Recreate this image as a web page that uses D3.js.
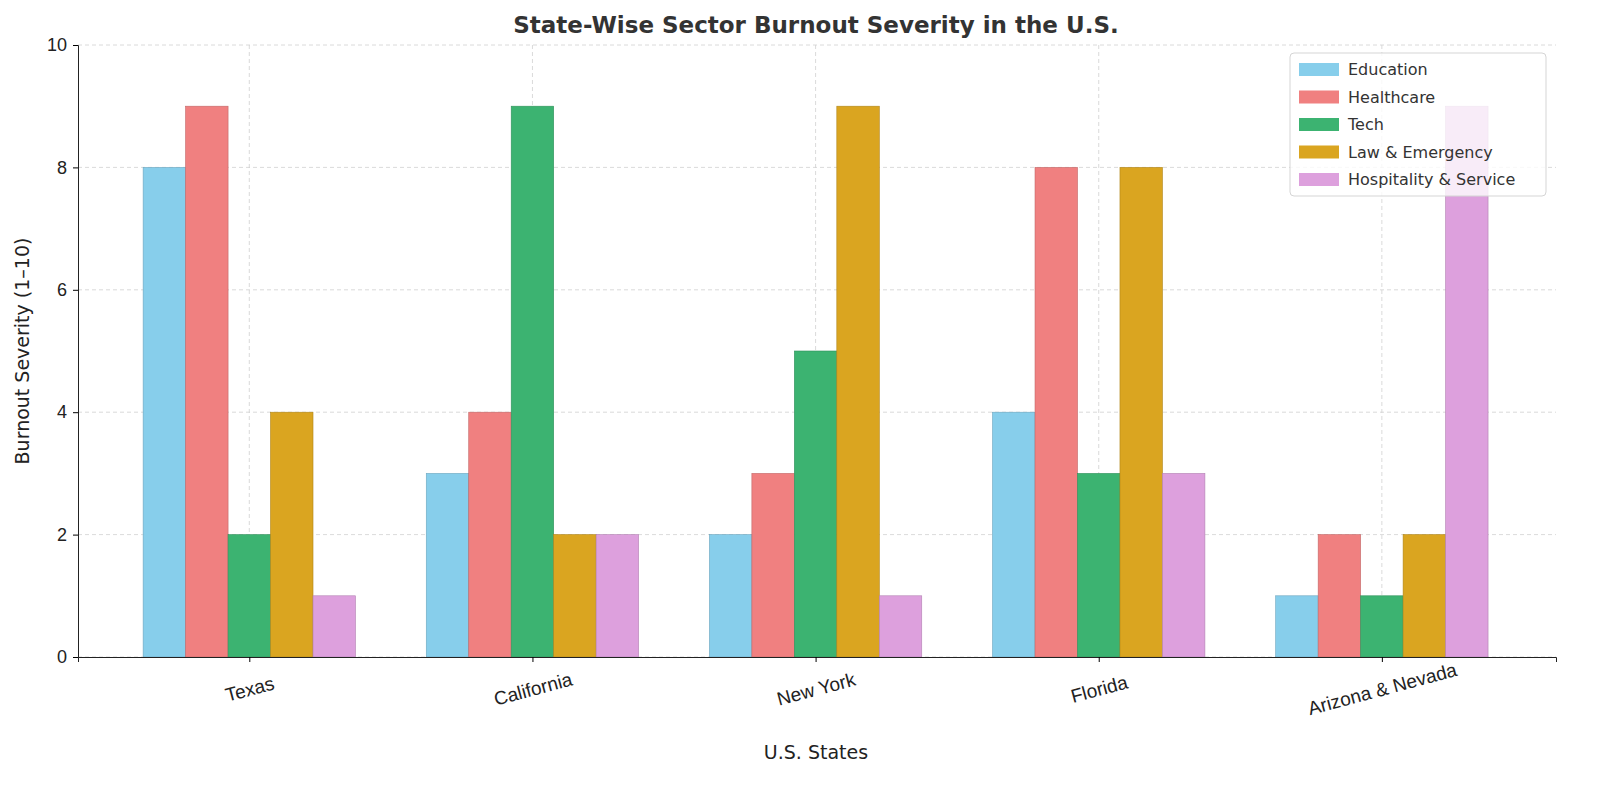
<!DOCTYPE html>
<html><head><meta charset="utf-8">
<script src="https://cdn.jsdelivr.net/npm/d3@7"></script>
<style>html,body{margin:0;overflow:hidden;background:#fff;font-family:"DejaVu Sans",sans-serif}svg{display:block}</style>
</head><body><div id="chart"></div>
<script>
const states = ["Texas", "California", "New York", "Florida", "Arizona & Nevada"];
const sectors = ["Education", "Healthcare", "Tech", "Law & Emergency", "Hospitality & Service"];
const colors = ["#87ceeb", "#f08080", "#3cb371", "#daa520", "#dda0dd"];
const education = [8, 3, 2, 4, 1];
const healthcare = [9, 4, 3, 8, 2];
const tech = [2, 9, 5, 3, 1];
const lawEmergency = [4, 2, 9, 8, 2];
const hospitality = [1, 2, 1, 3, 9];
const yTicks = [0, 2, 4, 6, 8, 10];
const series = [education, healthcare, tech, lawEmergency, hospitality];

const W = 1600, H = 794;
const margin = { top: 45, right: 44, bottom: 137, left: 78 };
const width = W - margin.left - margin.right, height = H - margin.top - margin.bottom;

const svg = d3.select("#chart").append("svg").attr("width", W).attr("height", H);
const g = svg.append("g").attr("transform", "translate(" + margin.left + "," + margin.top + ")");

const x = d3.scaleLinear().domain([-0.605, 4.615]).range([0, width]);
const y = d3.scaleLinear().domain([0, 10]).range([height, 0]);
const bw = 0.15;

// grid
g.selectAll(".hg").data(yTicks).join("line")
  .attr("x1", 0).attr("x2", width).attr("y1", d => y(d)).attr("y2", d => y(d))
  .attr("stroke", "#d0d0d0").attr("stroke-dasharray", "4,3").attr("stroke-width", 0.8);
g.selectAll(".vg").data(states).join("line")
  .attr("x1", (d, i) => x(i)).attr("x2", (d, i) => x(i)).attr("y1", 0).attr("y2", height)
  .attr("stroke", "#d0d0d0").attr("stroke-dasharray", "4,3").attr("stroke-width", 0.8);

series.forEach((vals, s) => {
  g.selectAll(".b" + s).data(vals).join("rect")
    .attr("x", (d, i) => x(i + (s - 2.5) * bw))
    .attr("width", x(bw) - x(0))
    .attr("y", d => y(d)).attr("height", d => height - y(d))
    .attr("fill", colors[s])
    .attr("stroke", d3.color(colors[s]).darker(0.6)).attr("stroke-width", 0.6);
});

// axes
const yAxis = d3.axisLeft(y).tickValues(yTicks).tickSize(5).tickPadding(6);
const yg = g.append("g").call(yAxis);
yg.selectAll("text").attr("font-size", 18).attr("fill", "#222");
yg.select(".domain").attr("stroke", "#222");

const xAxis = d3.axisBottom(x).tickValues(d3.range(states.length)).tickFormat(i => states[i]).tickSize(5);
const xg = g.append("g").attr("transform", "translate(0," + height + ")").call(xAxis);
xg.select(".domain").attr("stroke", "#222");
xg.selectAll("text").attr("font-size", 19).attr("fill", "#222")
  .attr("text-anchor", "middle").attr("transform", "translate(0,32) rotate(-15)").attr("dy", "0.35em").attr("y", 0);

svg.append("text").attr("x", 816).attr("y", 33).attr("text-anchor", "middle")
  .attr("font-size", 23).attr("font-weight", "bold").attr("fill", "#333")
  .text("State-Wise Sector Burnout Severity in the U.S.");
svg.append("text").attr("x", 816).attr("y", 759).attr("text-anchor", "middle")
  .attr("font-size", 19).attr("fill", "#222").text("U.S. States");
svg.append("text").attr("transform", "translate(29,351) rotate(-90)").attr("text-anchor", "middle")
  .attr("font-size", 19).attr("fill", "#222").text("Burnout Severity (1–10)");

// legend
const lg = svg.append("g").attr("transform", "translate(1290,53)");
lg.append("rect").attr("width", 256).attr("height", 143).attr("rx", 4)
  .attr("fill", "rgba(255,255,255,0.8)").attr("stroke", "#d5d5d5");
sectors.forEach((s, i) => {
  lg.append("rect").attr("x", 9).attr("y", 10 + i * 27.5).attr("width", 40).attr("height", 13).attr("fill", colors[i]);
  lg.append("text").attr("x", 58).attr("y", 22 + i * 27.5).attr("font-size", 16).attr("fill", "#333").text(s);
});
</script></body></html>
